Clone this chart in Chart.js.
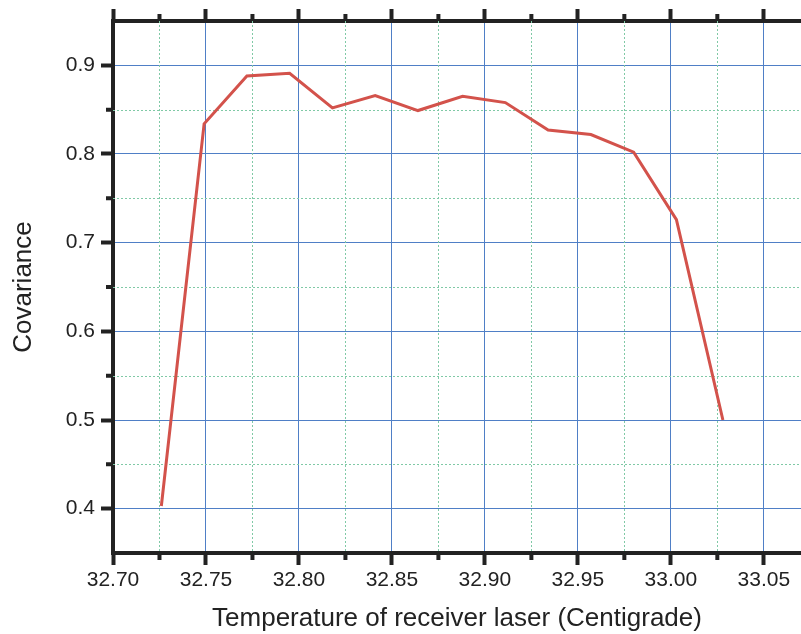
<!DOCTYPE html>
<html lang="en">
<head>
    <meta charset="UTF-8">
    <title>Covariance vs. receiver laser temperature</title>
    <script src="https://cdn.jsdelivr.net/npm/chart.js"></script>
    <style>
        body { margin: 0; background: #ffffff; }
        #wrap { width: 801px; height: 634px; }
    </style>
</head>
<body>
    <div id="wrap"><canvas id="covChart" width="801" height="634"></canvas></div>

    <script>
        // measured points
        const temperature = [32.726, 32.749, 32.772, 32.795, 32.818, 32.841, 32.864,
                             32.888, 32.911, 32.934, 32.957, 32.980, 33.003, 33.028];
        const covariance = [0.403, 0.834, 0.888, 0.891, 0.852, 0.866, 0.849,
                            0.865, 0.858, 0.827, 0.822, 0.802, 0.726, 0.500];

        // axis ticks
        const xTicks = [32.70, 32.75, 32.80, 32.85, 32.90, 32.95, 33.00, 33.05];
        const xMinor = [32.725, 32.775, 32.825, 32.875, 32.925, 32.975, 33.025];
        const yTicks = [0.4, 0.5, 0.6, 0.7, 0.8, 0.9];
        const yMinor = [0.45, 0.55, 0.65, 0.75, 0.85];

        const ink = '#222222';
        const majorGrid = '#4f7fc6';

        // dotted minor grid + short minor tick marks
        const minorGrid = {
            id: 'minorGrid',
            beforeDatasetsDraw(chart) {
                const { ctx, chartArea: a, scales: { x, y } } = chart;
                ctx.save();
                ctx.beginPath();
                ctx.rect(a.left, a.top, a.right - a.left, a.bottom - a.top);
                ctx.clip();
                ctx.strokeStyle = '#80c9a6';
                ctx.lineWidth = 1;
                ctx.setLineDash([2, 2]);
                ctx.beginPath();
                xMinor.forEach(v => {
                    const px = Math.round(x.getPixelForValue(v)) + 0.5;
                    ctx.moveTo(px, a.top);
                    ctx.lineTo(px, a.bottom);
                });
                yMinor.forEach(v => {
                    const py = Math.round(y.getPixelForValue(v)) + 0.5;
                    ctx.moveTo(a.left, py);
                    ctx.lineTo(a.right, py);
                });
                ctx.stroke();
                ctx.restore();
            },
            afterDraw(chart) {
                const { ctx, chartArea: a, scales: { x, y } } = chart;
                const len = 7;
                ctx.save();
                ctx.strokeStyle = ink;
                ctx.lineWidth = 4;
                ctx.beginPath();
                xMinor.forEach(v => {
                    const px = x.getPixelForValue(v);
                    ctx.moveTo(px, a.bottom);
                    ctx.lineTo(px, a.bottom + len);
                    ctx.moveTo(px, a.top);
                    ctx.lineTo(px, a.top - len);
                });
                yMinor.forEach(v => {
                    const py = y.getPixelForValue(v);
                    ctx.moveTo(a.left, py);
                    ctx.lineTo(a.left - len, py);
                });
                ctx.stroke();
                ctx.restore();
            }
        };

        const tickFont = { family: 'Liberation Sans, Arial, sans-serif', size: 21 };
        const titleFont = { family: 'Liberation Sans, Arial, sans-serif', size: 26 };

        new Chart(document.getElementById('covChart'), {
            type: 'line',
            data: {
                datasets: [{
                    data: temperature.map((t, i) => ({ x: t, y: covariance[i] })),
                    borderColor: '#d3524b',
                    borderWidth: 3,
                    pointRadius: 0,
                    tension: 0,
                    xAxisID: 'x',
                    yAxisID: 'y'
                }]
            },
            options: {
                responsive: false,
                animation: false,
                layout: { padding: 0 },
                plugins: { legend: { display: false }, tooltip: { enabled: false } },
                scales: {
                    x: {
                        type: 'linear',
                        position: 'bottom',
                        min: 32.70,
                        max: 33.07,
                        afterBuildTicks: s => { s.ticks = xTicks.map(v => ({ value: v })); },
                        afterFit: s => { s.height = 81; },
                        ticks: {
                            color: ink,
                            font: tickFont,
                            padding: 3,
                            maxRotation: 0,
                            autoSkip: false,
                            callback: v => v.toFixed(2)
                        },
                        grid: {
                            color: majorGrid,
                            lineWidth: 1,
                            tickColor: ink,
                            tickWidth: 4,
                            tickLength: 12
                        },
                        border: { color: ink, width: 4 },
                        title: {
                            display: true,
                            text: 'Temperature of receiver laser (Centigrade)',
                            color: ink,
                            font: titleFont,
                            padding: { top: 0, bottom: 0 }
                        }
                    },
                    xTop: {
                        type: 'linear',
                        axis: 'x',
                        position: 'top',
                        min: 32.70,
                        max: 33.07,
                        afterBuildTicks: s => { s.ticks = xTicks.map(v => ({ value: v })); },
                        afterFit: s => { s.height = 21; },
                        ticks: { display: false },
                        grid: {
                            drawOnChartArea: false,
                            tickColor: ink,
                            tickWidth: 4,
                            tickLength: 12
                        },
                        border: { color: ink, width: 4 }
                    },
                    y: {
                        type: 'linear',
                        position: 'left',
                        min: 0.35,
                        max: 0.95,
                        afterBuildTicks: s => { s.ticks = yTicks.map(v => ({ value: v })); },
                        afterFit: s => { s.width = 113; },
                        ticks: {
                            color: ink,
                            font: tickFont,
                            padding: 6,
                            callback: v => v.toFixed(1)
                        },
                        grid: {
                            color: majorGrid,
                            lineWidth: 1,
                            tickColor: ink,
                            tickWidth: 4,
                            tickLength: 12
                        },
                        border: { color: ink, width: 4 },
                        title: {
                            display: true,
                            text: 'Covariance',
                            color: ink,
                            font: titleFont,
                            padding: { top: 8, bottom: 0 }
                        }
                    }
                }
            },
            plugins: [minorGrid]
        });
    </script>
</body>
</html>
